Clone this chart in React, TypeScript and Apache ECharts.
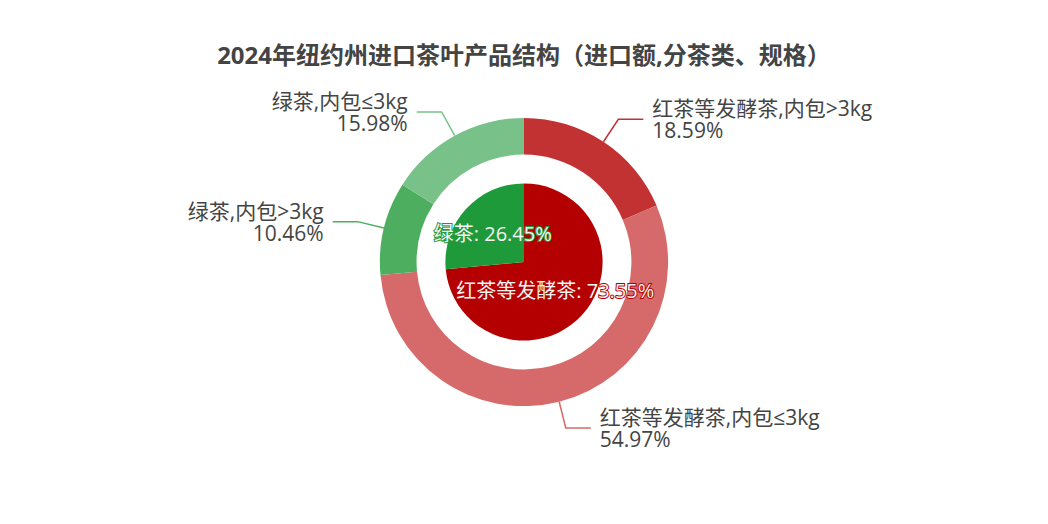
import { useEffect, useRef } from 'react'
import * as echarts from 'echarts'

const titleText = '2024年纽约州进口茶叶产品结构（进口额,分茶类、规格）'

// inner ring: tea type
const innerNames = ['红茶等发酵茶', '绿茶']
const innerValues = [73.55, 26.45]
const innerColors = ['#b40000', '#1f9a3a']

// outer ring: tea type + package size
const outerNames = ['红茶等发酵茶,内包>3kg', '红茶等发酵茶,内包≤3kg', '绿茶,内包>3kg', '绿茶,内包≤3kg']
const outerValues = [18.59, 54.97, 10.46, 15.98]
const outerColors = ['#c23232', '#d66a6a', '#4dae5f', '#78c28a']

const FONT = '"Open Sans", "Noto Sans CJK SC", sans-serif'

export default function App() {
  const chartRef = useRef<HTMLDivElement>(null)

  useEffect(() => {
    document.body.style.margin = '0'
    if (!chartRef.current) return
    const chart = echarts.init(chartRef.current, undefined, { renderer: 'svg' })

    const option: echarts.EChartsOption = {
      animation: false,
      backgroundColor: '#fff',
      textStyle: { fontFamily: FONT },
      title: {
        text: titleText,
        left: 'center',
        top: 37,
        textStyle: { fontSize: 24, fontWeight: 'bold', color: '#444', fontFamily: FONT },
      },
      series: [
        {
          name: '茶类',
          type: 'pie',
          center: ['50%', '50%'],
          radius: [0, '30%'],
          label: {
            position: 'inside',
            formatter: '{b}: {d}%',
            fontSize: 20,
            color: '#f4f4f4',
            textBorderWidth: 2,
          },
          labelLine: { show: false },
          data: innerNames.map((name, i) => ({
            name,
            value: innerValues[i],
            itemStyle: { color: innerColors[i] },
            label: { textBorderColor: innerColors[i] },
          })),
        },
        {
          name: '规格',
          type: 'pie',
          center: ['50%', '50%'],
          radius: ['41%', '55%'],
          label: {
            formatter: '{b}\n{d}%',
            fontSize: 21,
            lineHeight: 22,
            color: '#444',
            distanceToLabelLine: 9,
          },
          labelLine: { length: 27, length2: 25, lineStyle: { width: 1.5 } },
          data: outerNames.map((name, i) => ({
            name,
            value: outerValues[i],
            itemStyle: { color: outerColors[i] },
          })),
        },
      ],
    }

    chart.setOption(option)
    return () => {
      chart.dispose()
    }
  }, [])

  return <div ref={chartRef} style={{ width: '1048px', height: '524px' }} />
}
